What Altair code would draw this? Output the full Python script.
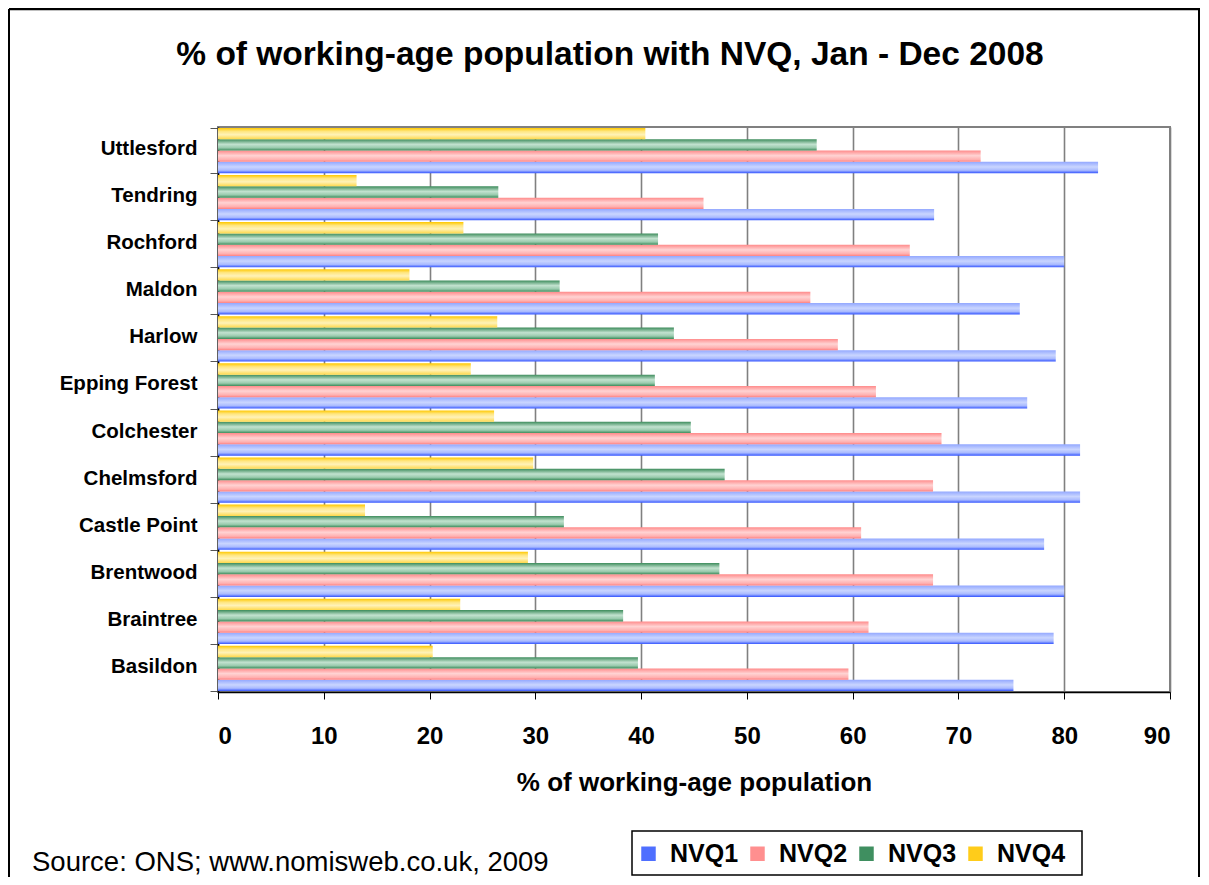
import altair as alt
import pandas as pd

districts = ["Uttlesford", "Tendring", "Rochford", "Maldon", "Harlow", "Epping Forest",
             "Colchester", "Chelmsford", "Castle Point", "Brentwood", "Braintree", "Basildon"]
nvq1 = [83.2, 67.7, 80.0, 75.8, 79.2, 76.5, 81.5, 81.5, 78.1, 80.0, 79.0, 75.2]
nvq2 = [72.1, 45.9, 65.4, 56.0, 58.6, 62.2, 68.4, 67.6, 60.8, 67.6, 61.5, 59.6]
nvq3 = [56.6, 26.5, 41.6, 32.3, 43.1, 41.3, 44.7, 47.9, 32.7, 47.4, 38.3, 39.7]
nvq4 = [40.4, 13.1, 23.2, 18.1, 26.4, 23.9, 26.1, 29.8, 13.9, 29.3, 22.9, 20.3]
series_names = ["NVQ1", "NVQ2", "NVQ3", "NVQ4"]
series_values = [nvq1, nvq2, nvq3, nvq4]
solid_colors = ["#4F6FFF", "#FF8F8F", "#3F8F60", "#FFCC1A"]
title_text = "% of working-age population with NVQ, Jan - Dec 2008"
x_title = "% of working-age population"
source_text = "Source: ONS; www.nomisweb.co.uk, 2009"

rows = []
for name, vals in zip(series_names, series_values):
    for d, v in zip(districts, vals):
        rows.append({"district": d, "series": name, "value": v})
df = pd.DataFrame(rows)

offset_order = ["NVQ4", "NVQ3", "NVQ2", "NVQ1"]
FONT = "Liberation Sans"


def grad(stops):
    return alt.LinearGradient(
        gradient="linear", x1=0, y1=0, x2=0, y2=1,
        stops=[alt.GradientStop(offset=o, color=c) for o, c in stops])


gradients = {
    "NVQ1": grad([(0, "#93A8FF"), (0.45, "#C9D5FF"), (0.75, "#A9BAFF"), (1, "#3556FF")]),
    "NVQ2": grad([(0, "#FF8A8A"), (0.45, "#FFD3D3"), (0.8, "#FFB0B0"), (1, "#FF8080")]),
    "NVQ3": grad([(0, "#3D8C5C"), (0.45, "#C2E2CF"), (0.75, "#9ACBAE"), (1, "#3D8C5C")]),
    "NVQ4": grad([(0, "#FFC800"), (0.3, "#FFE680"), (0.6, "#FFF2B8"), (1, "#FFD84A")]),
}

x_enc = alt.X("value:Q", scale=alt.Scale(domain=[0, 90], nice=False, zero=True),
              axis=alt.Axis(values=list(range(0, 100, 10)), title=x_title, grid=True,
                            gridColor="#808080", gridWidth=1.6, domainColor="black",
                            domainWidth=1.5, tickColor="black", tickSize=7,
                            labelFontSize=24, labelFont=FONT, labelFontWeight="bold",
                            labelColor="black", labelPadding=25,
                            titleFontSize=26, titleFont=FONT, titleFontWeight="bold",
                            titleColor="black", titlePadding=21))
y_enc = alt.Y("district:N", sort=districts,
              scale=alt.Scale(paddingInner=0.04, paddingOuter=0.02),
              axis=alt.Axis(title=None, grid=False, tickBand="extent", tickSize=8,
                            tickColor="#555555", domainColor="black", domainWidth=1.5,
                            labelFontSize=20.5, labelFont=FONT, labelFontWeight="bold",
                            labelColor="black", labelPadding=13, labelBaseline="middle",
                            labelOffset=-2))
yoff_enc = alt.YOffset("series:N", sort=offset_order,
                       scale=alt.Scale(domain=offset_order, paddingInner=0, paddingOuter=0))

base = alt.Chart(df)

layers = []
for s in series_names:
    layers.append(
        base.transform_filter(alt.datum.series == s)
        .mark_bar(fill=gradients[s], strokeWidth=0)
        .encode(x=x_enc, y=y_enc, yOffset=yoff_enc)
    )

box_df = pd.DataFrame({"k": [0]})
legend_box = alt.Chart(box_df).mark_rect(fill="white", stroke="black", strokeWidth=1.5).encode(
    x=alt.value(414), x2=alt.value(864), y=alt.value(704), y2=alt.value(748))

legend_layer = base.mark_bar(opacity=0).encode(
    x=x_enc, y=y_enc, yOffset=yoff_enc,
    color=alt.Color("series:N",
                    scale=alt.Scale(domain=series_names, range=solid_colors),
                    legend=alt.Legend(orient="none", legendX=418, legendY=714,
                                      direction="horizontal", title=None,
                                      symbolType="square", symbolSize=210,
                                      symbolOpacity=1, symbolStrokeWidth=0,
                                      labelFontSize=25, labelFont=FONT,
                                      labelFontWeight="bold", labelColor="black",
                                      labelOffset=9, columnPadding=6,
                                      padding=0)))

title_layer = alt.Chart(pd.DataFrame({"t": [title_text]})).mark_text(
    font=FONT, fontSize=33.5, fontWeight="bold", color="black",
    align="center", baseline="middle").encode(
    text="t:N", x=alt.value(392), y=alt.value(-72))

source_layer = alt.Chart(pd.DataFrame({"t": [source_text]})).mark_text(
    font=FONT, fontSize=27.5, color="black", align="left", baseline="middle").encode(
    text="t:N", x=alt.value(-186), y=alt.value(736))

border_df = pd.DataFrame({"k": [0]})
border_left = alt.Chart(border_df).mark_rule(color="black", strokeWidth=2).encode(
    x=alt.value(-209), y=alt.value(-118), y2=alt.value(770))
border_top = alt.Chart(border_df).mark_rule(color="black", strokeWidth=2.5).encode(
    x=alt.value(-209), x2=alt.value(982), y=alt.value(-118))
border_right = alt.Chart(border_df).mark_rule(color="black", strokeWidth=2).encode(
    x=alt.value(981), y=alt.value(-118), y2=alt.value(770))

chart = alt.layer(
    *layers, legend_box, legend_layer, title_layer, source_layer,
    border_left, border_top, border_right
).properties(
    width=952, height=565,
    autosize=alt.AutoSizeParams(type="none"),
    padding={"left": 210, "top": 119, "right": 31, "bottom": 185},
    background="white",
).configure_view(stroke="#808080", strokeWidth=2)

chart.save("out.html", embed_options={"renderer": "svg", "actions": False})
